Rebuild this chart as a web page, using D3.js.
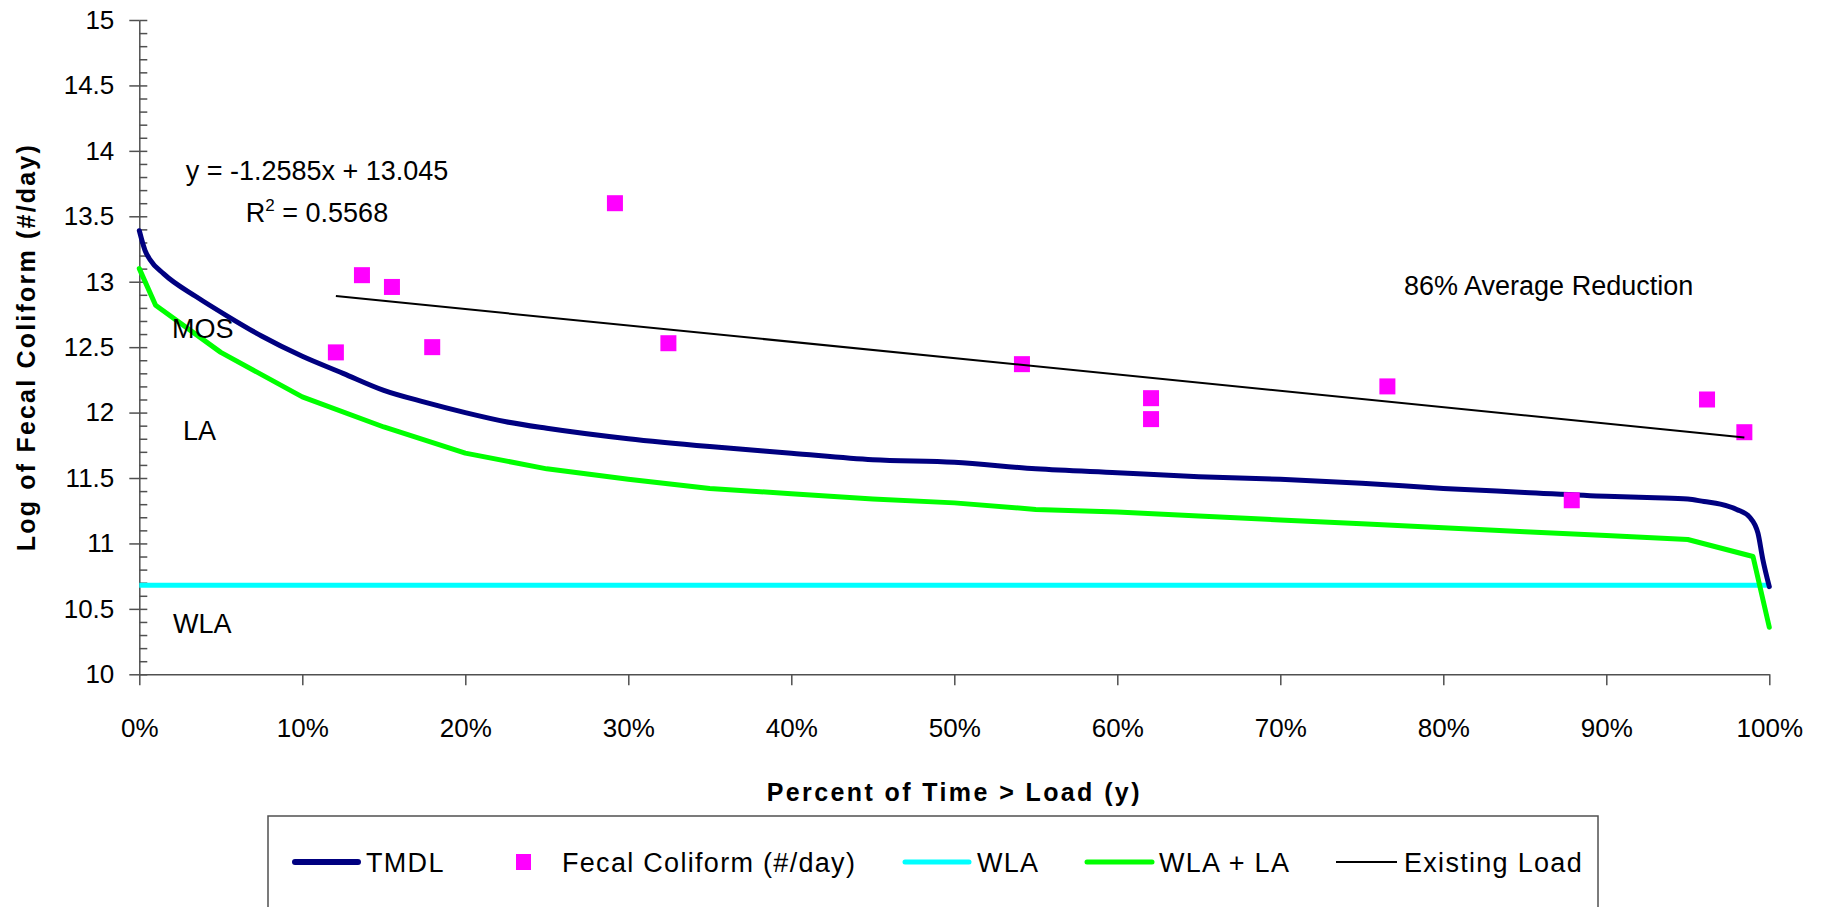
<!DOCTYPE html>
<html>
<head>
<meta charset="utf-8">
<script src="https://cdn.jsdelivr.net/npm/d3@7"></script>
<style>
  body { margin: 0; background: #fff; }
  .comic { font-family: "Comic Sans MS", "Liberation Sans", Arial, sans-serif; }
  .arial { font-family: "Liberation Sans", Arial, sans-serif; }
</style>
</head>
<body>
<div id="chart"></div>
<script>
// percent of time axis ticks
var xTicks = [0, 10, 20, 30, 40, 50, 60, 70, 80, 90, 100];
var yTicks = [10, 10.5, 11, 11.5, 12, 12.5, 13, 13.5, 14, 14.5, 15];

// TMDL curve
var tmdlPct = [0, 0.35, 0.65, 1.5, 3.5, 5.5, 7.5, 10, 12.5, 15, 17.5, 20, 22.5, 25, 30, 35, 40, 45, 50, 55, 60, 65, 70, 75, 80, 85, 90, 93, 95, 96, 97, 98, 98.8, 99.3, 99.6, 100];
var tmdlLog = [13.39, 13.24, 13.17, 13.06, 12.885, 12.73, 12.585, 12.43, 12.30, 12.17, 12.08, 12.00, 11.93, 11.88, 11.80, 11.74, 11.69, 11.64, 11.62, 11.57, 11.54, 11.51, 11.49, 11.46, 11.42, 11.39, 11.36, 11.35, 11.34, 11.32, 11.30, 11.26, 11.20, 11.08, 10.88, 10.67];

// WLA + LA
var wlaLaPct = [0, 1, 5, 10, 15, 20, 25, 30, 35, 40, 45, 50, 55, 60, 65, 70, 75, 80, 85, 90, 95, 99, 100];
var wlaLaLog = [13.10, 12.82, 12.46, 12.12, 11.89, 11.69, 11.57, 11.49, 11.42, 11.38, 11.34, 11.31, 11.26, 11.24, 11.21, 11.18, 11.15, 11.12, 11.09, 11.06, 11.03, 10.90, 10.36];

// WLA
var wlaPct = [0, 100];
var wlaLog = [10.68, 10.68];

// Fecal coliform samples
var fcPct = [12.06, 13.66, 15.5, 17.97, 29.18, 32.46, 54.15, 62.07, 62.07, 76.57, 87.88, 96.18, 98.47];
var fcLog = [12.46, 13.05, 12.96, 12.50, 13.60, 12.53, 12.37, 12.11, 11.95, 12.20, 11.33, 12.10, 11.85];

// Existing load (trend line)
var existPct = [12.06, 98.47];
var existLog = [12.89, 11.81];

var legendNames = ["TMDL", "Fecal Coliform (#/day)", "WLA", "WLA + LA", "Existing Load"];

function init() {
    var w = 1825;
    var h = 907;

    var svg = d3.select("#chart")
        .append("svg")
        .attr("width", w)
        .attr("height", h);

    var x = d3.scaleLinear().domain([0, 100]).range([139.3, 1769.3]);
    var y = d3.scaleLinear().domain([10, 15]).range([674.3, 20]);

    var axisColor = "#505050";

    // minor y ticks (inside)
    var minor = d3.range(100, 151).map(function (d) { return d / 10; });
    var gMinor = svg.append("g")
        .attr("transform", "translate(" + x(0) + ",0)")
        .call(d3.axisLeft(y).tickValues(minor).tickSize(-8).tickFormat(""));
    gMinor.select(".domain").remove();
    gMinor.selectAll("line").attr("stroke", axisColor).attr("stroke-width", 1.5);

    var gy = svg.append("g")
        .attr("transform", "translate(" + x(0) + ",0)")
        .call(d3.axisLeft(y).tickValues(yTicks).tickSizeInner(10).tickSizeOuter(0).tickPadding(15)
            .tickFormat(function (d) { return d; }));
    gy.select(".domain").attr("stroke", axisColor).attr("stroke-width", 1.5);
    gy.selectAll("line").attr("stroke", axisColor).attr("stroke-width", 1.5);
    gy.selectAll("text")
        .attr("class", "arial")
        .style("font-size", "26px")
        .attr("fill", "#000");

    var gx = svg.append("g")
        .attr("transform", "translate(0," + y(10) + ")")
        .call(d3.axisBottom(x).tickValues(xTicks).tickSizeInner(11).tickSizeOuter(0).tickPadding(33)
            .tickFormat(function (d) { return d + "%"; }));
    gx.select(".domain").attr("stroke", axisColor).attr("stroke-width", 1.5);
    gx.selectAll("line").attr("stroke", axisColor).attr("stroke-width", 1.5);
    gx.selectAll("text")
        .attr("class", "comic")
        .style("font-size", "26px")
        .attr("fill", "#000");

    // axis titles
    svg.append("text")
        .attr("class", "comic")
        .attr("x", (x(0) + x(100)) / 2)
        .attr("y", 801)
        .attr("text-anchor", "middle")
        .style("font-size", "25px")
        .style("font-weight", "bold")
        .style("letter-spacing", "2.4px")
        .text("Percent of Time > Load (y)");

    svg.append("text")
        .attr("class", "comic")
        .attr("transform", "translate(35," + ((y(10) + y(15)) / 2) + ") rotate(-90)")
        .attr("text-anchor", "middle")
        .style("font-size", "25px")
        .style("font-weight", "bold")
        .style("letter-spacing", "2.2px")
        .text("Log of Fecal Coliform (#/day)");

    function pairs(px, py) {
        return px.map(function (d, i) { return [d, py[i]]; });
    }

    var straight = d3.line()
        .x(function (d) { return x(d[0]); })
        .y(function (d) { return y(d[1]); });
    var smooth = d3.line()
        .x(function (d) { return x(d[0]); })
        .y(function (d) { return y(d[1]); })
        .curve(d3.curveMonotoneX);

    svg.append("path")
        .attr("d", straight(pairs(wlaPct, wlaLog)))
        .attr("fill", "none")
        .attr("stroke", "#00FFFF")
        .attr("stroke-width", 5);

    svg.append("path")
        .attr("d", straight(pairs(wlaLaPct, wlaLaLog)))
        .attr("fill", "none")
        .attr("stroke", "#00FF00")
        .attr("stroke-width", 5)
        .attr("stroke-linejoin", "round")
        .attr("stroke-linecap", "round");

    svg.append("path")
        .attr("d", smooth(pairs(tmdlPct, tmdlLog)))
        .attr("fill", "none")
        .attr("stroke", "#000080")
        .attr("stroke-width", 5)
        .attr("stroke-linejoin", "round")
        .attr("stroke-linecap", "round");

    var sq = 16;
    svg.selectAll("rect.fc")
        .data(pairs(fcPct, fcLog))
        .enter()
        .append("rect")
        .attr("class", "fc")
        .attr("x", function (d) { return x(d[0]) - sq / 2; })
        .attr("y", function (d) { return y(d[1]) - sq / 2; })
        .attr("width", sq)
        .attr("height", sq)
        .attr("fill", "#FF00FF");

    svg.append("path")
        .attr("d", straight(pairs(existPct, existLog)))
        .attr("fill", "none")
        .attr("stroke", "#000")
        .attr("stroke-width", 2);

    // annotations
    var notes = [
        { t: "MOS", x: 172, y: 338 },
        { t: "LA", x: 183, y: 440 },
        { t: "WLA", x: 173, y: 633 },
        { t: "86% Average Reduction", x: 1404, y: 295 }
    ];
    svg.selectAll("text.note")
        .data(notes)
        .enter()
        .append("text")
        .attr("class", "note arial")
        .attr("x", function (d) { return d.x; })
        .attr("y", function (d) { return d.y; })
        .style("font-size", "27px")
        .text(function (d) { return d.t; });

    svg.append("text")
        .attr("class", "arial")
        .attr("x", 317)
        .attr("y", 180)
        .attr("text-anchor", "middle")
        .style("font-size", "27px")
        .text("y = -1.2585x + 13.045");

    var r2 = svg.append("text")
        .attr("class", "arial")
        .attr("x", 317)
        .attr("y", 222)
        .attr("text-anchor", "middle")
        .style("font-size", "27px");
    r2.append("tspan").text("R");
    r2.append("tspan").attr("dy", -11).style("font-size", "17px").text("2");
    r2.append("tspan").attr("dy", 11).text(" = 0.5568");

    // legend
    svg.append("rect")
        .attr("x", 268)
        .attr("y", 816)
        .attr("width", 1330)
        .attr("height", 95)
        .attr("fill", "none")
        .attr("stroke", axisColor)
        .attr("stroke-width", 1.5);

    var ly = 862;
    var legendItems = [
        { type: "line", color: "#000080", sw: 6, x0: 295, x1: 358, tx: 366 },
        { type: "square", color: "#FF00FF", x0: 516, x1: 531, tx: 562 },
        { type: "line", color: "#00FFFF", sw: 5, x0: 905, x1: 969, tx: 977 },
        { type: "line", color: "#00FF00", sw: 5, x0: 1087, x1: 1152, tx: 1159 },
        { type: "line", color: "#000", sw: 2, x0: 1336, x1: 1397, tx: 1404 }
    ];
    var lg = svg.selectAll("g.leg")
        .data(legendItems)
        .enter()
        .append("g")
        .attr("class", "leg");
    lg.filter(function (d) { return d.type === "line"; })
        .append("line")
        .attr("x1", function (d) { return d.x0; })
        .attr("x2", function (d) { return d.x1; })
        .attr("y1", ly)
        .attr("y2", ly)
        .attr("stroke", function (d) { return d.color; })
        .attr("stroke-width", function (d) { return d.sw; })
        .attr("stroke-linecap", function (d) { return d.sw > 2 ? "round" : "butt"; });
    lg.filter(function (d) { return d.type === "square"; })
        .append("rect")
        .attr("x", function (d) { return d.x0; })
        .attr("y", ly - 8)
        .attr("width", 15)
        .attr("height", 16)
        .attr("fill", function (d) { return d.color; });
    lg.append("text")
        .attr("class", "comic")
        .attr("x", function (d) { return d.tx; })
        .attr("y", ly + 10)
        .style("font-size", "27px")
        .style("letter-spacing", "1.3px")
        .text(function (d, i) { return legendNames[i]; });
}
window.onload = init;
</script>
</body>
</html>
